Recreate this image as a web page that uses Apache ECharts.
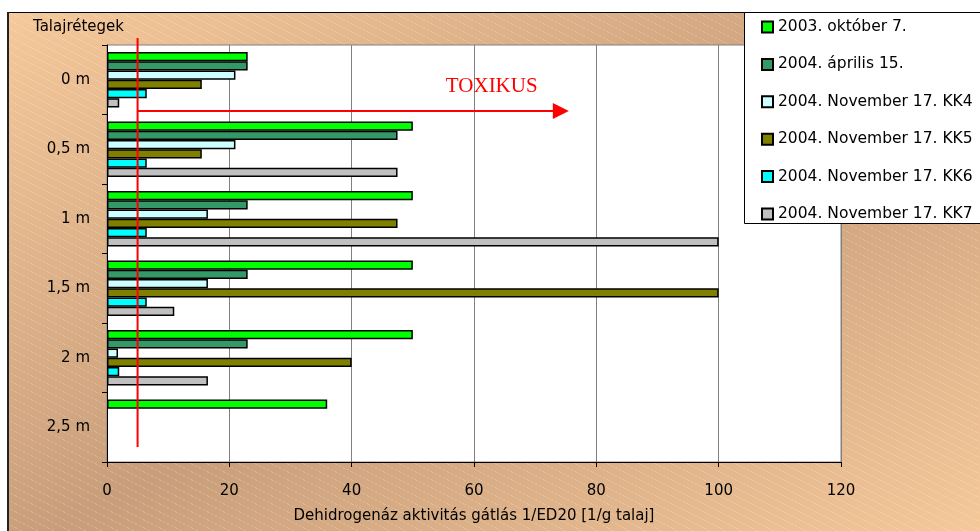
<!DOCTYPE html>
<html>
<head>
<meta charset="utf-8">
<script src="https://cdn.jsdelivr.net/npm/echarts@6/dist/echarts.min.js"></script>
<style>
  html, body { margin: 0; padding: 0; background: #ffffff; }
  #chart { width: 980px; height: 531px; }
</style>
</head>
<body>
<div id="chart"></div>
<script>
// Soil layers (depth) shown on the category axis, top to bottom
const categories = ['0 m', '0,5 m', '1 m', '1,5 m', '2 m', '2,5 m'];

// Sampling dates / sites
const seriesNames = [
  '2003. október 7.',
  '2004. április 15.',
  '2004. November 17. KK4',
  '2004. November 17. KK5',
  '2004. November 17. KK6',
  '2004. November 17. KK7'
];

// Dehydrogenase activity inhibition, 1/ED20 [1/g soil]
const okt2003 = [23, 50, 50, 50, 50, 36];
const apr2004 = [23, 47.5, 23, 23, 23, null];
const nov2004KK4 = [21, 21, 16.5, 16.5, 1.8, null];
const nov2004KK5 = [15.5, 15.5, 47.5, 100, 40, null];
const nov2004KK6 = [6.5, 6.5, 6.5, 6.5, 2, null];
const nov2004KK7 = [2, 47.5, 100, 11, 16.5, null];

const seriesColors = ['#00ff00', '#339966', '#ccffff', '#808000', '#00ffff', '#c0c0c0'];

// Value axis ticks
const xMin = 0, xMax = 120, xInterval = 20;

// Toxicity threshold and the arrow pointing into the toxic range
const toxicLimit = 5;
const arrowEnd = 75.5;
const toxicLabelAt = 62.9;
const toxicLabel = 'TOXIKUS';

const axisTitle = 'Dehidrogenáz aktivitás gátlás 1/ED20 [1/g talaj]';
const layerTitle = 'Talajrétegek';

const FONT = 'DejaVu Sans';

const chart = echarts.init(document.getElementById('chart'), null, { renderer: 'canvas' });

// Fine diagonal hatching laid over the chart background
function hatchCanvas() {
  const c = document.createElement('canvas');
  c.width = 16; c.height = 8;
  const g = c.getContext('2d');
  g.strokeStyle = 'rgba(255,255,255,0.26)';
  g.lineWidth = 1;
  g.setLineDash([2, 2]);
  for (const dy of [-8, 0, 8]) {
    g.beginPath();
    g.moveTo(0, dy);
    g.lineTo(16, dy + 8);
    g.stroke();
  }
  return c;
}

// Chart frame with a light-dark-light diagonal gradient
const frame = { x: 7, y: 12, w: 1000, h: 545 };
const cx = frame.x + frame.w / 2, cy = frame.y + frame.h / 2;
const L2 = frame.w * frame.w + frame.h * frame.h;
const k = frame.w * frame.h / L2;
const gx0 = cx - frame.h * k, gy0 = cy - frame.w * k;
const gx1 = cx + frame.h * k, gy1 = cy + frame.w * k;
const frameGradient = new echarts.graphic.LinearGradient(gx0, gy0, gx1, gy1, [
  { offset: 0, color: '#f6c99b' },
  { offset: 0.5, color: '#c89e7a' },
  { offset: 1, color: '#f9cc9d' }
], true);

const gridBox = { left: 107, right: 139, top: 45, bottom: 69 };
const plotBottom = 531 - gridBox.bottom;

const valueSets = [okt2003, apr2004, nov2004KK4, nov2004KK5, nov2004KK6, nov2004KK7];

const option = {
  animation: false,
  backgroundColor: '#ffffff',
  title: {
    text: layerTitle,
    left: 33,
    top: 20,
    padding: 0,
    textStyle: { fontFamily: FONT, fontSize: 15, fontWeight: 'normal', color: '#000' }
  },
  legend: {
    orient: 'vertical',
    left: 756,
    top: 13,
    itemWidth: 11,
    itemHeight: 11,
    itemGap: 19.4,
    icon: 'rect',
    selectedMode: false,
    textStyle: { fontFamily: FONT, fontSize: 15.5, color: '#000', lineHeight: 18 },
    data: seriesNames
  },
  grid: {
    left: gridBox.left,
    right: gridBox.right,
    top: gridBox.top,
    bottom: gridBox.bottom,
    show: true,
    backgroundColor: '#ffffff',
    borderColor: '#808080',
    borderWidth: 1
  },
  xAxis: {
    type: 'value',
    min: xMin,
    max: xMax,
    interval: xInterval,
    name: axisTitle,
    nameLocation: 'middle',
    nameGap: 47,
    nameTextStyle: { fontFamily: FONT, fontSize: 15, color: '#000' },
    axisLine: { show: true, lineStyle: { color: '#000', width: 1 } },
    axisTick: { show: true, length: 5, inside: false, lineStyle: { color: '#000' } },
    axisLabel: { margin: 22, fontFamily: FONT, fontSize: 15, color: '#000' },
    splitLine: { show: true, lineStyle: { color: '#808080', width: 1 } }
  },
  yAxis: {
    type: 'category',
    inverse: true,
    data: categories,
    axisLine: { show: true, lineStyle: { color: '#000', width: 1 } },
    axisTick: { show: true, length: 5, inside: false, lineStyle: { color: '#000' } },
    axisLabel: { margin: 17, fontFamily: FONT, fontSize: 15, color: '#000' },
    splitLine: { show: false }
  },
  series: seriesNames.map((name, i) => ({
    name: name,
    type: 'bar',
    data: valueSets[i],
    barGap: '0%',
    barCategoryGap: '20%',
    itemStyle: { color: seriesColors[i], borderColor: '#000', borderWidth: 1.5 }
  })),
  graphic: [
    {
      id: 'frame',
      type: 'rect',
      z: -20,
      silent: true,
      shape: { x: frame.x, y: frame.y, width: frame.w, height: frame.h },
      style: { fill: frameGradient, stroke: null }
    },
    {
      id: 'hatch',
      type: 'rect',
      z: -19,
      silent: true,
      shape: { x: frame.x, y: frame.y, width: frame.w, height: frame.h },
      style: { fill: { image: hatchCanvas(), repeat: 'repeat' }, stroke: null }
    },
    {
      id: 'frameTop',
      type: 'line',
      z: -18,
      silent: true,
      shape: { x1: frame.x, y1: frame.y + 0.5, x2: 980, y2: frame.y + 0.5 },
      style: { stroke: '#000', lineWidth: 1 }
    },
    {
      id: 'frameLeft',
      type: 'line',
      z: -18,
      silent: true,
      shape: { x1: frame.x + 1, y1: frame.y, x2: frame.x + 1, y2: 531 },
      style: { stroke: '#222', lineWidth: 2 }
    },
    {
      id: 'legendBox',
      type: 'rect',
      z: 3,
      silent: true,
      shape: { x: 744.5, y: 12.5, width: 300, height: 211 },
      style: { fill: '#ffffff', stroke: '#000', lineWidth: 1 }
    }
  ]
};

chart.setOption(option);

// Threshold line, arrow and label placed through the value axis
const px = v => chart.convertToPixel({ xAxisIndex: 0 }, v);
const xLimit = px(toxicLimit);
const xTip = px(arrowEnd);
const arrowY = gridBox.top + 66;

chart.setOption({
  graphic: [
    {
      id: 'limitLine',
      type: 'line',
      z: 10,
      silent: true,
      shape: { x1: xLimit, y1: gridBox.top - 7, x2: xLimit, y2: plotBottom - 15 },
      style: { stroke: '#ff0000', lineWidth: 2 }
    },
    {
      id: 'arrowLine',
      type: 'line',
      z: 10,
      silent: true,
      shape: { x1: xLimit, y1: arrowY, x2: xTip - 14, y2: arrowY },
      style: { stroke: '#ff0000', lineWidth: 2 }
    },
    {
      id: 'arrowHead',
      type: 'polygon',
      z: 10,
      silent: true,
      shape: { points: [[xTip - 16, arrowY - 8], [xTip, arrowY], [xTip - 16, arrowY + 8]] },
      style: { fill: '#ff0000' }
    },
    {
      id: 'toxicText',
      type: 'text',
      z: 10,
      silent: true,
      x: px(toxicLabelAt),
      y: arrowY - 25,
      style: {
        text: toxicLabel,
        fill: '#ff0000',
        font: '21px "Liberation Serif", "Times New Roman", serif',
        align: 'center',
        verticalAlign: 'middle'
      }
    }
  ]
});
</script>
</body>
</html>
